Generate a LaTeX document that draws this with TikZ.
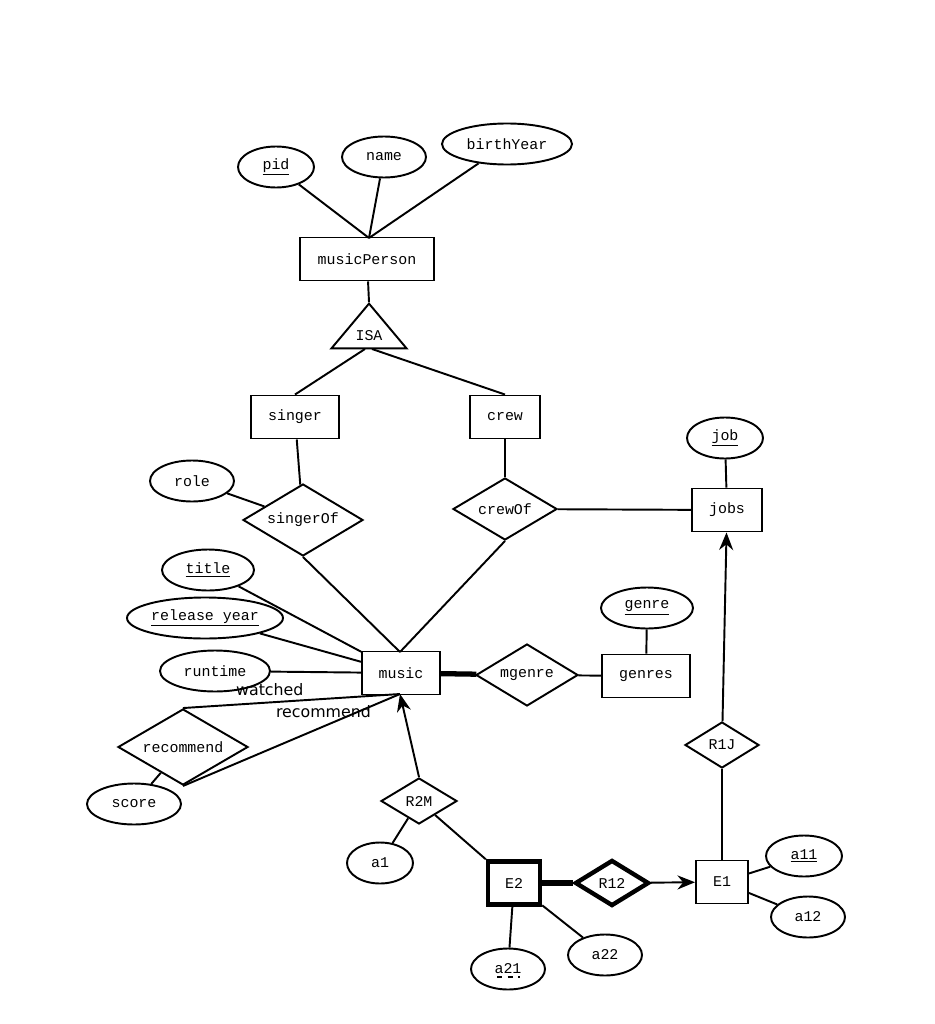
\documentclass[tikz,border=0pt]{standalone}
\usepackage{fontspec}
\setmainfont{Liberation Mono}
\newfontfamily\sans{DejaVu Sans}
\usetikzlibrary{shapes.geometric,arrows.meta}
\begin{document}
\begin{tikzpicture}[x=0.02cm,y=-0.02cm,font=\fontsize{8.5}{10}\selectfont,
 line width=1.1pt,
 ent/.style={draw,rectangle,minimum width=#1*0.02cm,minimum height=43*0.02cm,inner sep=0},
 att/.style={draw,ellipse,minimum width=#1*0.02cm,minimum height=41*0.02cm,inner sep=0},
 rel/.style n args={3}{draw,diamond,aspect=#3,minimum width=#1*0.02cm,minimum height=#2*0.02cm,inner sep=0},
 arr/.style={-{Stealth[length=10pt,width=8pt]}},
 lab/.style={font=\sans\fontsize{9}{10}\selectfont}]
\useasboundingbox (0,0) rectangle (934,1024);
% entities
\node[ent=134] (mp) at (367,259) {musicPerson};
\node[ent=88] (singer) at (295,417) {singer};
\node[ent=70] (crew) at (505,417) {crew};
\node[ent=70] (jobs) at (727,510) {jobs};
\node[ent=78] (music) at (401,673) {music};
\node[ent=88] (genres) at (646,676) {genres};
\node[ent=52,line width=2.5pt] (e2) at (514,883) {E2};
\node[ent=52] (e1) at (722,882) {E1};
% ISA
\node[draw,isosceles triangle,isosceles triangle apex angle=80,shape border rotate=90,minimum height=33*0.02cm,minimum width=75*0.02cm,inner sep=0] (isa) at (369,336) {ISA};
% attributes
\node[att=76] (pid) at (276,167) {\underline{pid}};
\node[att=84] (name) at (384,157) {name};
\node[att=130] (by) at (507,144) {birthYear};
\node[att=84] (role) at (192,481) {role};
\node[att=76] (job) at (725,438) {\underline{job}};
\node[att=92] (title) at (208,570) {\underline{title}};
\node[att=156] (ry) at (205,618) {\underline{release year}};
\node[att=110] (rt) at (215,671) {runtime};
\node[att=92] (genre) at (647,608) {\underline{genre}};
\node[att=94] (score) at (134,804) {score};
\node[att=66] (a1) at (380,863) {a1};
\node[att=76] (a11) at (804,856) {\underline{a11}};
\node[att=74] (a12) at (808,917) {a12};
\node[att=74] (a21) at (508,969) {a21};
\draw[dashed,line width=0.8pt] (497,977) -- (520,977);
\node[att=74] (a22) at (605,955) {a22};
% relationships
\node[rel={120}{72}{1.67}] (so) at (303,520) {singerOf};
\node[rel={104}{62}{1.68}] (co) at (505,509) {crewOf};
\node[rel={102}{62}{1.65}] (mg) at (527,675) {mgenre};
\node[rel={130}{76}{1.71}] (rec) at (183,747) {recommend};
\node[rel={76}{46}{1.65}] (r2m) at (419,801) {R2M};
\node[rel={74}{46}{1.61},line width=2.5pt] (r12) at (612,883) {R12};
\node[rel={74}{46}{1.61}] (r1j) at (722,745) {R1J};
% edges
\coordinate (mpt) at (369,238);
\draw (pid) -- (mpt); \draw (name) -- (mpt); \draw (by) -- (mpt);
\draw (mp) -- (isa.apex);
\draw (365,349) -- (singer.north); \draw (372,349) -- (crew.north);
\draw (singer) -- (so); \draw (role) -- (so);
\draw (crew) -- (co); \draw (co) -- (jobs); \draw (job) -- (jobs);
\coordinate (mt) at (400,652);
\draw (so.south) -- (mt); \draw (co.south) -- (mt);
\draw (title) -- (music); \draw (ry) -- (music); \draw (rt) -- (music);
\draw[line width=3pt] (music) -- (mg);
\draw (mg) -- (genres); \draw (genre) -- (genres);
\coordinate (mb) at (400,694);
\draw (rec.north) -- node[lab,above,pos=0.4]{watched} (mb);
\draw (rec.south) -- node[lab,above,pos=0.55,xshift=12pt,yshift=6pt]{recommend} (mb);
\draw (score) -- (rec);
\draw[arr] (r2m.north) -- (mb);
\draw (a1) -- (r2m);
\draw (r2m) -- (e2.north west);
\draw[line width=3pt] (e2) -- (r12);
\draw[arr] (r12) -- (e1);
\draw (e1) -- (r1j);
\draw[arr] (r1j) -- (jobs);
\draw (a11) -- (e1); \draw (a12) -- (e1);
\draw (a21) -- (e2); \draw (a22) -- (e2);
\end{tikzpicture}
\end{document}
